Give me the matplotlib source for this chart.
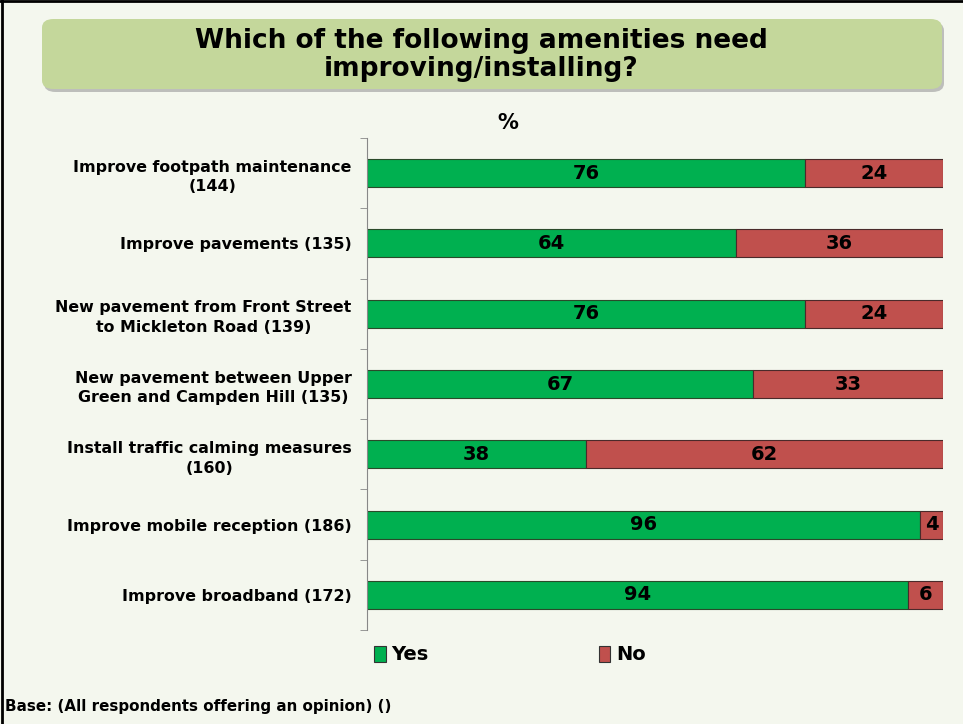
import matplotlib.pyplot as plt
from matplotlib.patches import FancyBboxPatch, Rectangle
import numpy as np

categories = [
    "Improve footpath maintenance\n(144)",
    "Improve pavements (135)",
    "New pavement from Front Street\nto Mickleton Road (139)",
    "New pavement between Upper\nGreen and Campden Hill (135)",
    "Install traffic calming measures\n(160)",
    "Improve mobile reception (186)",
    "Improve broadband (172)",
]
yes_vals = [76, 64, 76, 67, 38, 96, 94]
no_vals = [24, 36, 24, 33, 62, 4, 6]

green = '#00b050'
red = '#c0504d'
bg = '#f4f7ee'

fig = plt.figure(figsize=(9.63, 7.24), dpi=100)
fig.patch.set_facecolor(bg)

# title box with shadow
box = FancyBboxPatch((44 / 963, 1 - 92 / 724), 900 / 963, 70 / 724,
                     boxstyle="round,pad=0,rounding_size=0.012",
                     transform=fig.transFigure, facecolor='#999999',
                     edgecolor='none', alpha=0.6, zorder=0)
fig.patches.append(box)
box = FancyBboxPatch((42 / 963, 1 - 89 / 724), 900 / 963, 70 / 724,
                     boxstyle="round,pad=0,rounding_size=0.012",
                     transform=fig.transFigure, facecolor='#c4d79b',
                     edgecolor='none', zorder=1)
fig.patches.append(box)
fig.text(0.5, 1 - 55 / 724, "Which of the following amenities need\nimproving/installing?",
         ha='center', va='center', fontsize=19, fontweight='bold', linespacing=1.05)

# frame lines on left and top
fig.add_artist(plt.Line2D([0.002, 0.002], [0, 1], color='black', lw=2, transform=fig.transFigure))
fig.add_artist(plt.Line2D([0, 1], [0.998, 0.998], color='black', lw=2, transform=fig.transFigure))

ax = fig.add_axes([367 / 963, 1 - 630 / 724, 576 / 963, 492 / 724])
ax.set_facecolor(bg)
y = np.arange(len(categories))
ax.barh(y, yes_vals, height=0.4, color=green, edgecolor='#2a4a2a', lw=0.8, label='Yes')
ax.barh(y, no_vals, left=yes_vals, height=0.4, color=red, edgecolor='#4a2a2a', lw=0.8, label='No')

for i in range(len(categories)):
    ax.text(yes_vals[i] / 2, i, str(yes_vals[i]), ha='center', va='center',
            fontsize=14, fontweight='bold')
    ax.text(yes_vals[i] + no_vals[i] / 2, i, str(no_vals[i]), ha='center', va='center',
            fontsize=14, fontweight='bold')

ax.set_xlim(0, 100)
ax.set_ylim(len(categories) - 0.5, -0.5)
ax.set_yticks(y)
ax.set_yticklabels(categories, fontsize=11.4, fontweight='bold', ha='right',
                   multialignment='center', linespacing=1.4)
ax.tick_params(axis='y', length=0, pad=11)
ax.set_yticks(np.arange(-0.5, len(categories)), minor=True)
ax.tick_params(axis='y', which='minor', length=5, color='#888888')
ax.set_xticks([])
for s in ['top', 'right', 'bottom']:
    ax.spines[s].set_visible(False)
ax.spines['left'].set_color('#888888')

fig.text(508 / 963, 1 - 123 / 724, "%", ha='center', va='center', fontsize=15, fontweight='bold')

# legend
handles = [Rectangle((0, 0), 1, 1, facecolor=green, edgecolor='#333333', lw=0.8),
           Rectangle((0, 0), 1, 1, facecolor=red, edgecolor='#333333', lw=0.8)]
leg = fig.legend(handles, ['Yes', 'No'], loc='center', bbox_to_anchor=(510 / 963, 1 - 655 / 724),
                 ncol=2, frameon=False, handlelength=0.6, handleheight=0.9, handletextpad=0.3,
                 columnspacing=8.75, prop={'weight': 'bold', 'size': 14})

fig.text(5 / 963, 1 - 706 / 724, "Base: (All respondents offering an opinion) ()",
         ha='left', va='center', fontsize=10.9, fontweight='bold')

fig.savefig('out.png', dpi=100, facecolor=bg)
